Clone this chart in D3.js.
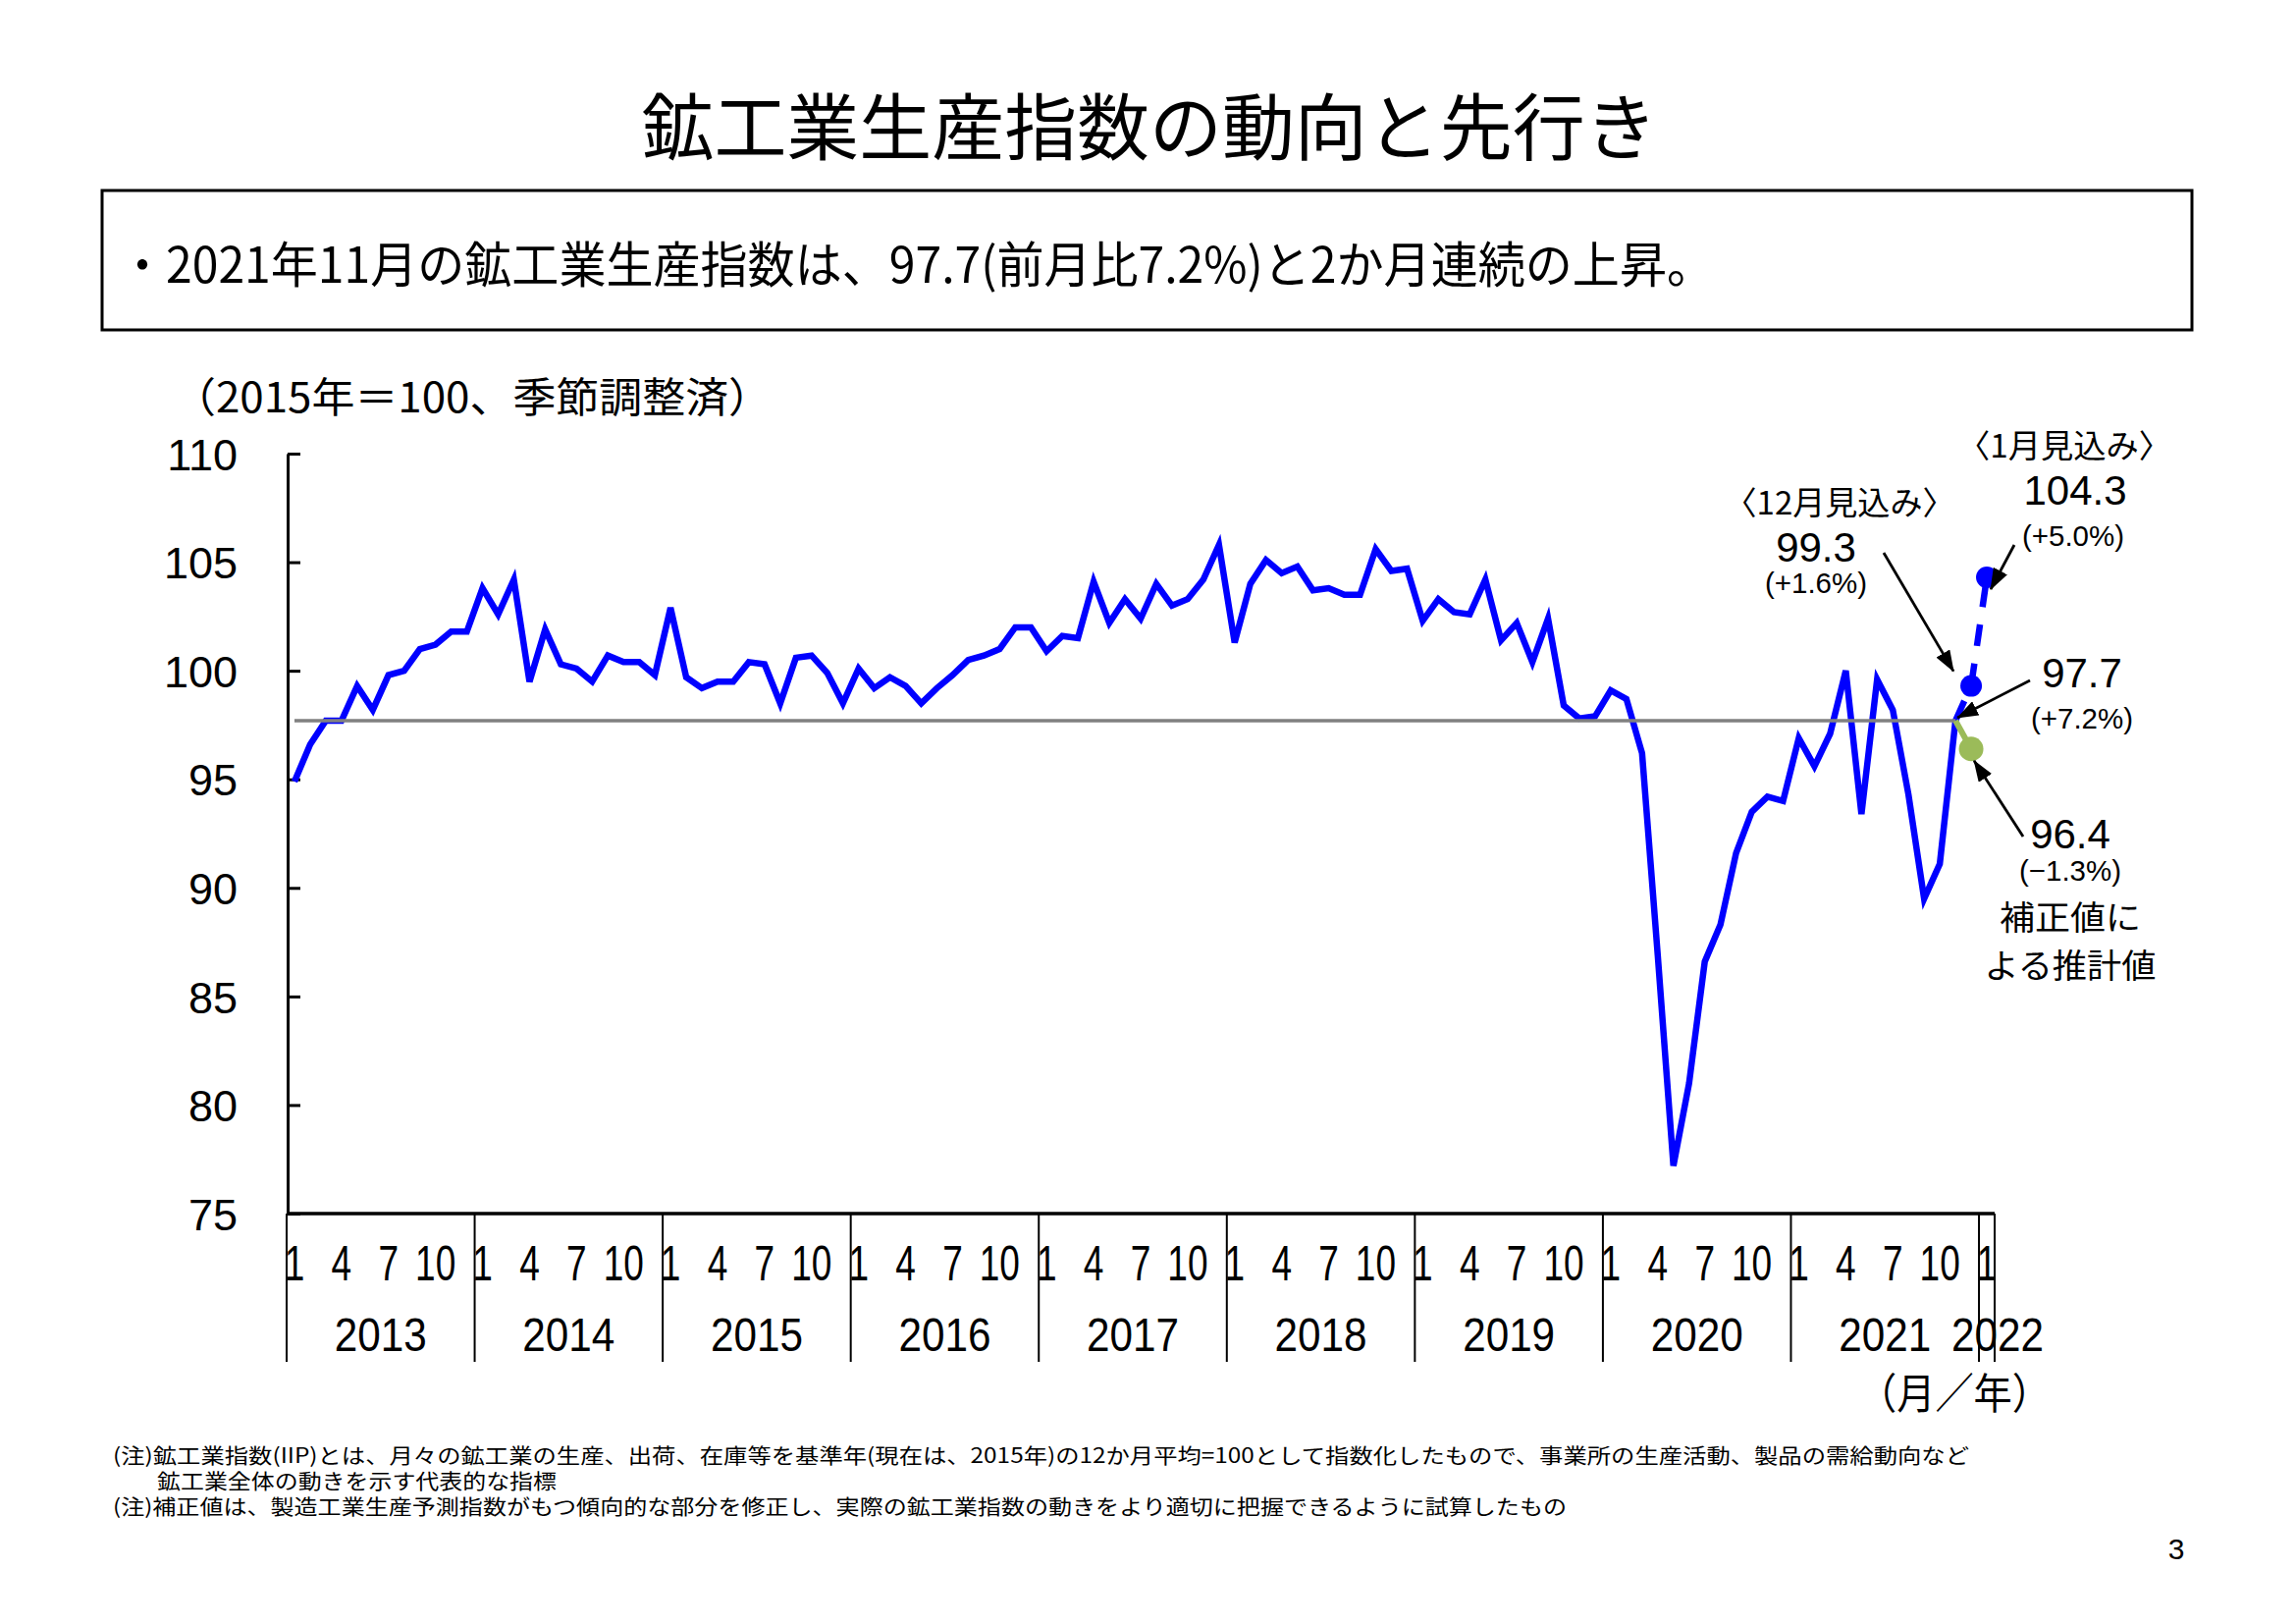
<!DOCTYPE html>
<html><head><meta charset="utf-8">
<script src="https://cdn.jsdelivr.net/npm/d3@7"></script>
<style>body{margin:0;background:#fff}svg{display:block}</style>
</head><body>
<svg id="c" width="2339" height="1654"></svg>
<script>
// ---------- data ----------
const years = [2013, 2014, 2015, 2016, 2017, 2018, 2019, 2020, 2021, 2022];
const monthTicks = [1, 4, 7, 10];
const iip2013 = [94.9, 96.6, 97.7, 97.7, 99.3, 98.2, 99.8, 100.0, 101.0, 101.2, 101.8, 101.8];
const iip2014 = [103.8, 102.6, 104.2, 99.5, 101.9, 100.3, 100.1, 99.5, 100.7, 100.4, 100.4, 99.8];
const iip2015 = [102.9, 99.7, 99.2, 99.5, 99.5, 100.4, 100.3, 98.5, 100.6, 100.7, 99.9, 98.5];
const iip2016 = [100.1, 99.2, 99.7, 99.3, 98.5, 99.2, 99.8, 100.5, 100.7, 101.0, 102.0, 102.0];
const iip2017 = [100.9, 101.6, 101.5, 104.1, 102.2, 103.3, 102.4, 104.0, 103.0, 103.3, 104.2, 105.8];
const iip2018 = [101.3, 104.0, 105.1, 104.5, 104.8, 103.7, 103.8, 103.5, 103.5, 105.6, 104.6, 104.7];
const iip2019 = [102.3, 103.3, 102.7, 102.6, 104.2, 101.4, 102.2, 100.4, 102.4, 98.4, 97.8, 97.9];
const iip2020 = [99.1, 98.7, 96.2, 86.9, 77.2, 81.0, 86.6, 88.3, 91.6, 93.5, 94.2, 94.0];
const iip2021 = [96.9, 95.6, 97.1, 100.0, 93.4, 99.6, 98.2, 94.3, 89.5, 91.1, 97.7];
const forecastKeys = ["2021-11", "2021-12", "2022-01"];
const forecastValues = [97.7, 99.3, 104.3];
const correctedKeys = ["2021-11", "2021-12"];
const correctedValues = [97.7, 96.4];
const latestValue = 97.7;
const yTicks = [75, 80, 85, 90, 95, 100, 105, 110];

const title = "鉱工業生産指数の動向と先行き";
const summary = "・2021年11月の鉱工業生産指数は、97.7(前月比7.2%)と2か月連続の上昇。";
const unitLabel = "（2015年＝100、季節調整済）";
const axisUnit = "（月／年）";
const notes = [
  "(注)鉱工業指数(IIP)とは、月々の鉱工業の生産、出荷、在庫等を基準年(現在は、2015年)の12か月平均=100として指数化したもので、事業所の生産活動、製品の需給動向など",
  "鉱工業全体の動きを示す代表的な指標",
  "(注)補正値は、製造工業生産予測指数がもつ傾向的な部分を修正し、実際の鉱工業指数の動きをより適切に把握できるように試算したもの"
];

// ---------- build ----------
const pad = m => (m < 10 ? "0" : "") + m;
const seriesByYear = [iip2013, iip2014, iip2015, iip2016, iip2017, iip2018, iip2019, iip2020, iip2021];
const actual = [];
seriesByYear.forEach((arr, i) => arr.forEach((v, j) => actual.push({k: years[i] + "-" + pad(j + 1), v})));
const categories = [];
years.forEach(yr => { const n = yr === 2022 ? 1 : 12; for (let m = 1; m <= n; m++) categories.push(yr + "-" + pad(m)); });
const forecast = forecastKeys.map((k, i) => ({k, v: forecastValues[i]}));
const corrected = correctedKeys.map((k, i) => ({k, v: correctedValues[i]}));

const svg = d3.select("#c");
const JP = "'Noto Sans CJK JP', sans-serif";
const EN = "'Liberation Sans', Arial, sans-serif";

const x = d3.scaleBand().domain(categories).range([292, 2032]).padding(0);
const y = d3.scaleLinear().domain([75, 110]).range([1236, 462]);
const cx = k => x(k) + x.bandwidth() / 2;

function condense(sel, f) {
  sel.each(function () {
    const w = this.getComputedTextLength();
    d3.select(this).attr("textLength", w * f).attr("lengthAdjust", "spacingAndGlyphs");
  });
}
function txt(s, px, py, size, fam, anchor, width) {
  const t = svg.append("text").attr("x", px).attr("y", py)
    .attr("font-size", size).attr("font-family", fam)
    .attr("text-anchor", anchor || "middle").attr("dominant-baseline", "central")
    .attr("fill", "#000").text(s);
  if (width) t.attr("textLength", width).attr("lengthAdjust", "spacingAndGlyphs");
  return t;
}

// title & box
txt(title, 1171, 124, 74, JP, "middle", 1035);
svg.append("rect").attr("x", 104).attr("y", 194).attr("width", 2129).attr("height", 142)
  .attr("fill", "none").attr("stroke", "#000").attr("stroke-width", 3);
txt(summary, 121, 266, 50, JP, "start", 1625);
txt(unitLabel, 176, 401, 42, JP, "start", 610);

// y axis
const yAxis = svg.append("g").attr("transform", "translate(293,0)")
  .call(d3.axisLeft(y).tickValues(yTicks).tickSize(-13).tickSizeOuter(0).tickPadding(51));
yAxis.select(".domain").attr("stroke", "#000").attr("stroke-width", 3);
yAxis.selectAll(".tick line").attr("stroke", "#000").attr("stroke-width", 3);
yAxis.selectAll(".tick text").attr("font-size", 45).attr("font-family", EN).attr("fill", "#000").attr("dy", "0.36em");

// x axis
const monthCats = categories.filter(k => monthTicks.includes(+k.slice(5)));
const xAxis = svg.append("g").attr("transform", "translate(0,1236)")
  .call(d3.axisBottom(x).tickValues(monthCats).tickSize(0).tickPadding(0).tickFormat(k => +k.slice(5)));
xAxis.select(".domain").remove();
xAxis.selectAll(".tick text").attr("font-size", 50).attr("font-family", EN).attr("fill", "#000")
  .attr("y", 50).attr("dy", "0.36em").call(condense, 0.74);
svg.append("line").attr("x1", 292).attr("x2", 2032).attr("y1", 1236).attr("y2", 1236)
  .attr("stroke", "#000").attr("stroke-width", 3.5);
const sepX = years.map(yr => x(yr + "-01")).concat([x.range()[1]]);
svg.selectAll(".sep").data(sepX).join("line").attr("class", "sep")
  .attr("x1", d => d).attr("x2", d => d).attr("y1", 1236).attr("y2", 1387)
  .attr("stroke", "#000").attr("stroke-width", 2);
years.forEach(yr => {
  const ks = categories.filter(k => +k.slice(0, 4) === yr);
  const x0 = x(ks[0]), x1 = x(ks[ks.length - 1]) + x.bandwidth();
  const px = ks.length > 1 ? (x0 + x1) / 2 : x1 + 3;
  txt(String(yr), px, 1359, 48, EN, "middle").call(condense, 0.88);
});
txt(axisUnit, 1991, 1416, 43, JP, "middle", 196);

// lines
const line = d3.line().x(d => cx(d.k)).y(d => y(d.v));
svg.append("path").datum(actual).attr("d", line).attr("fill", "none")
  .attr("stroke", "#0000FF").attr("stroke-width", 6.5).attr("stroke-linejoin", "miter");
svg.append("path").datum(forecast).attr("d", line).attr("fill", "none")
  .attr("stroke", "#0000FF").attr("stroke-width", 6.5).attr("stroke-dasharray", "22,18");
svg.append("line").attr("x1", cx(actual[0].k)).attr("x2", cx("2021-11"))
  .attr("y1", y(latestValue)).attr("y2", y(latestValue))
  .attr("stroke", "#808080").attr("stroke-width", 3.5);
svg.append("path").datum(corrected).attr("d", line).attr("fill", "none")
  .attr("stroke", "#9BBB59").attr("stroke-width", 6);
svg.selectAll(".fdot").data(forecast.slice(1)).join("circle").attr("class", "fdot")
  .attr("cx", d => cx(d.k)).attr("cy", d => y(d.v)).attr("r", 11).attr("fill", "#0000FF");
svg.selectAll(".cdot").data(corrected.slice(1)).join("circle").attr("class", "cdot")
  .attr("cx", d => cx(d.k)).attr("cy", d => y(d.v)).attr("r", 12.5).attr("fill", "#9BBB59");

// arrows
svg.append("defs").append("marker").attr("id", "ah").attr("viewBox", "0 0 22 16")
  .attr("refX", 21).attr("refY", 8).attr("markerWidth", 22).attr("markerHeight", 16)
  .attr("markerUnits", "userSpaceOnUse").attr("orient", "auto")
  .append("path").attr("d", "M0,0 L22,8 L0,16 Z").attr("fill", "#000");
function arrow(x1, y1, x2, y2) {
  svg.append("line").attr("x1", x1).attr("y1", y1).attr("x2", x2).attr("y2", y2)
    .attr("stroke", "#000").attr("stroke-width", 2.8).attr("marker-end", "url(#ah)");
}
arrow(1919, 563, cx("2021-12") - 18, y(99.3) - 15);
arrow(2052, 555, cx("2022-01") + 4, y(104.3) + 12);
arrow(2068, 693, cx("2021-11") + 2, y(97.7) - 3);
arrow(2061, 852, cx("2021-12") + 3, y(96.4) + 12);

// annotations
txt("〈1月見込み〉", 2103, 452, 33, JP, "middle", 218);
txt("104.3", 2114, 499, 42, EN);
txt("(+5.0%)", 2112, 545, 30, EN, "middle", 104);
txt("〈12月見込み〉", 1874, 510, 33, JP, "middle", 235);
txt("99.3", 1850, 557, 42, EN);
txt("(+1.6%)", 1850, 593, 30, EN, "middle", 104);
txt("97.7", 2121, 685, 42, EN);
txt("(+7.2%)", 2121, 731, 30, EN, "middle", 104);
txt("96.4", 2109, 849, 42, EN);
txt("(−1.3%)", 2109, 886, 30, EN, "middle", 104);
txt("補正値に", 2109, 932, 34, JP, "middle", 144);
txt("よる推計値", 2109, 981, 34, JP, "middle", 175);

// notes
txt(notes[0], 115, 1481, 21, JP, "start", 1891);
txt(notes[1], 160, 1507, 21, JP, "start", 407);
txt(notes[2], 115, 1533, 21, JP, "start", 1481);
txt("3", 2217, 1577, 30, EN);
</script>
</body></html>
